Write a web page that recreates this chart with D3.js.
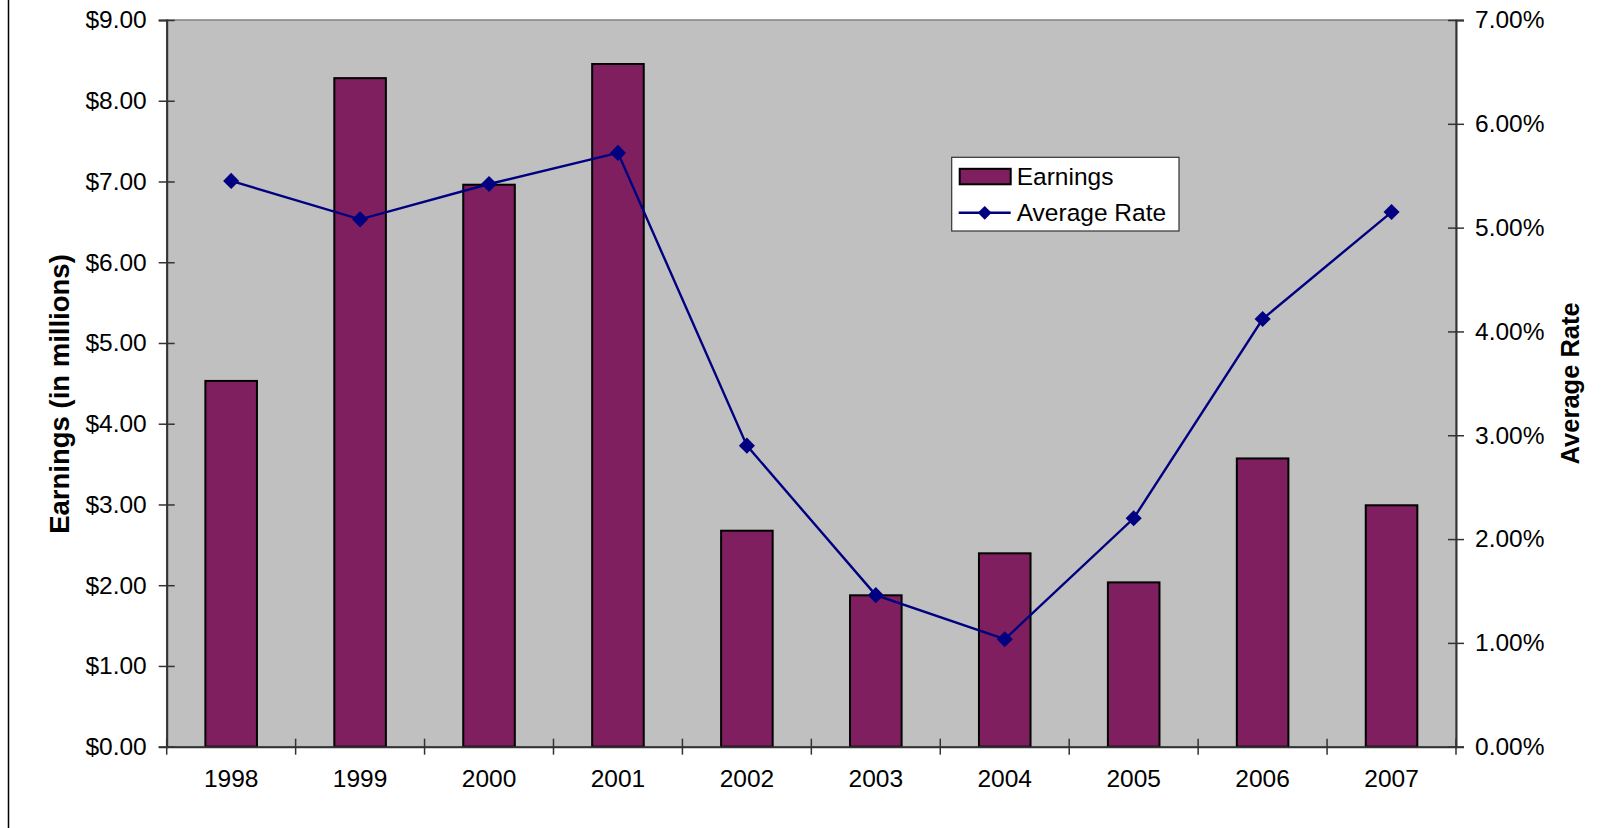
<!DOCTYPE html>
<html>
<head>
<meta charset="utf-8">
<script src="https://cdn.jsdelivr.net/npm/d3@7"></script>
<style>
  html, body { margin: 0; padding: 0; background: #fff; }
  svg { display: block; font-family: "Liberation Sans", Arial, sans-serif; }
</style>
</head>
<body>
<svg id="chart" width="1612" height="828"></svg>
<script>
// Yearly figures
const years = ["1998", "1999", "2000", "2001", "2002", "2003", "2004", "2005", "2006", "2007"];
const earnings = [4.53, 8.28, 6.96, 8.455, 2.675, 1.875, 2.395, 2.035, 3.57, 2.99];   // $ millions
const avgRate = [5.45, 5.08, 5.42, 5.72, 2.90, 1.46, 1.035, 2.20, 4.12, 5.15];        // percent
const earningsTicks = [0, 1, 2, 3, 4, 5, 6, 7, 8, 9];
const rateTicks = [0, 1, 2, 3, 4, 5, 6, 7];

const W = 1612, H = 828;
const plot = { left: 166.7, top: 20, right: 1456, bottom: 746.7 };

const svg = d3.select("#chart");

// Outer chart frame (only the left edge falls inside the page)
svg.append("rect")
  .attr("x", 8.5).attr("y", -10)
  .attr("width", 1800).attr("height", 1000)
  .attr("fill", "none").attr("stroke", "#000").attr("stroke-width", 1.5);

const x = d3.scaleBand().domain(years).range([plot.left, plot.right]).padding(0);
const yL = d3.scaleLinear().domain([0, 9]).range([plot.bottom, plot.top]);
const yR = d3.scaleLinear().domain([0, 7]).range([plot.bottom, plot.top]);

// Plot area
svg.append("rect")
  .attr("x", plot.left).attr("y", plot.top)
  .attr("width", plot.right - plot.left).attr("height", plot.bottom - plot.top)
  .attr("fill", "#c0c0c0").attr("stroke", "#808080").attr("stroke-width", 1.5);

// Bars
const barW = x.bandwidth() / 2.5;
svg.append("g").selectAll("rect")
  .data(years)
  .join("rect")
  .attr("x", (d) => x(d) + (x.bandwidth() - barW) / 2)
  .attr("y", (d, i) => yL(earnings[i]))
  .attr("width", barW)
  .attr("height", (d, i) => yL(0) - yL(earnings[i]))
  .attr("fill", "#7f1f5f")
  .attr("stroke", "#000").attr("stroke-width", 2);

// Axes
const fontSize = "24.5px";
const axisColor = "#333";

const leftAxis = svg.append("g")
  .attr("transform", `translate(${plot.left},0)`)
  .call(d3.axisLeft(yL).tickValues(earningsTicks).tickSize(8)
    .tickFormat((d) => "$" + d3.format(".2f")(d)).tickPadding(12));
leftAxis.selectAll(".tick line").attr("x2", 8).attr("x1", -8);

const rightAxis = svg.append("g")
  .attr("transform", `translate(${plot.right},0)`)
  .call(d3.axisRight(yR).tickValues(rateTicks).tickSize(8)
    .tickFormat((d) => d3.format(".2f")(d) + "%").tickPadding(11));
rightAxis.selectAll(".tick line").attr("x1", -8).attr("x2", 8);

const bottomAxis = svg.append("g")
  .attr("transform", `translate(0,${plot.bottom})`)
  .call(d3.axisBottom(x).tickSize(0).tickPadding(23));

// Category boundary ticks on the x axis
const bounds = years.map((d) => x(d)).concat([plot.right]);
svg.append("g").selectAll("line")
  .data(bounds)
  .join("line")
  .attr("x1", (d) => d).attr("x2", (d) => d)
  .attr("y1", plot.bottom - 8).attr("y2", plot.bottom + 8)
  .attr("stroke", axisColor).attr("stroke-width", 1.5);

[leftAxis, rightAxis, bottomAxis].forEach((g) => {
  g.selectAll(".domain").attr("stroke", axisColor).attr("stroke-width", 2);
  g.selectAll(".tick line").attr("stroke", axisColor).attr("stroke-width", 1.5);
  g.selectAll("text")
    .attr("fill", "#000")
    .style("font-size", fontSize)
    .style("font-family", "'Liberation Sans', Arial, sans-serif");
});

// Rate line with diamond markers
const line = d3.line()
  .x((d, i) => x(years[i]) + x.bandwidth() / 2)
  .y((d) => yR(d));
svg.append("path")
  .datum(avgRate)
  .attr("d", line)
  .attr("fill", "none").attr("stroke", "#000080").attr("stroke-width", 2.4);

svg.append("g").selectAll("path")
  .data(avgRate)
  .join("path")
  .attr("d", d3.symbol().type(d3.symbolSquare).size(130))
  .attr("transform", (d, i) => `translate(${x(years[i]) + x.bandwidth() / 2},${yR(d)}) rotate(45)`)
  .attr("fill", "#000080");

// Axis titles
svg.append("text")
  .attr("transform", "translate(69,394) rotate(-90)")
  .attr("text-anchor", "middle")
  .style("font-size", "27.5px").style("font-weight", "bold")
  .text("Earnings (in millions)");

svg.append("text")
  .attr("transform", `translate(1579,${(plot.top + plot.bottom) / 2}) rotate(-90)`)
  .attr("text-anchor", "middle")
  .style("font-size", "25.5px").style("font-weight", "bold")
  .text("Average Rate");

// Legend
const lg = svg.append("g").attr("transform", "translate(951.7,157.3)");
lg.append("rect")
  .attr("width", 227.3).attr("height", 73.7)
  .attr("fill", "#fff").attr("stroke", "#333").attr("stroke-width", 1.2);
lg.append("rect")
  .attr("x", 8).attr("y", 11.5).attr("width", 51).attr("height", 15.5)
  .attr("fill", "#7f1f5f").attr("stroke", "#000").attr("stroke-width", 2);
lg.append("text")
  .attr("x", 65).attr("y", 19.5).attr("dy", "0.35em")
  .style("font-size", fontSize).text("Earnings");
lg.append("line")
  .attr("x1", 7).attr("x2", 59).attr("y1", 55.5).attr("y2", 55.5)
  .attr("stroke", "#000080").attr("stroke-width", 2.4);
lg.append("path")
  .attr("transform", "translate(33,55.5) rotate(45)")
  .attr("d", d3.symbol().type(d3.symbolSquare).size(95))
  .attr("fill", "#000080");
lg.append("text")
  .attr("x", 65).attr("y", 55.5).attr("dy", "0.35em")
  .style("font-size", fontSize).text("Average Rate");
</script>
</body>
</html>
